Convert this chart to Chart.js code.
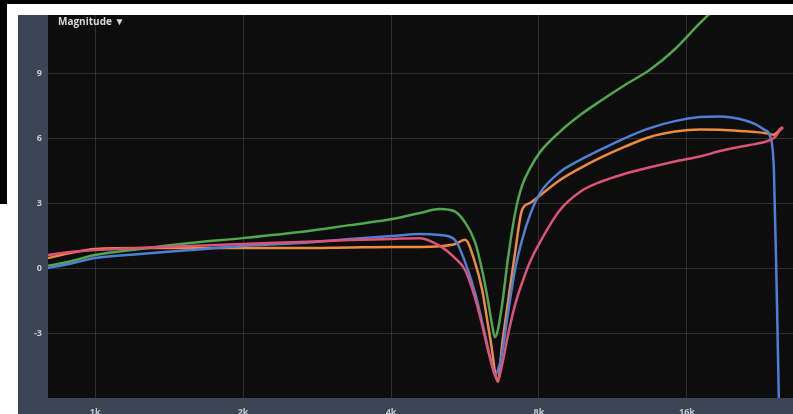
<!DOCTYPE html>
<html>
<head>
<meta charset="utf-8">
<script src="https://cdn.jsdelivr.net/npm/chart.js@4"></script>
<style>
  html, body { margin: 0; padding: 0; background: #fff; overflow: hidden; }
  body { width: 793px; height: 414px; position: relative; }
  .blk { position: absolute; background: #000; }
  #panel { position: absolute; left: 18px; top: 15px; width: 775px; height: 420px; background: #3b4553; }
</style>
</head>
<body>
<div class="blk" style="left:0;top:0;width:793px;height:4px"></div>
<div class="blk" style="left:0;top:0;width:7px;height:204px"></div>
<div id="panel"><canvas id="magChart"></canvas></div>
<script>
// Frequency points (Hz)
const freqs = [802, 890, 1000, 1235, 1560, 2000, 2610, 3300, 4020, 4580, 5030, 5400, 5660, 5930, 6130, 6300, 6420, 6510, 6600, 6730, 6920, 7150, 7390, 7670, 8040, 8830, 9690, 10650, 11970, 13450, 15120, 17000, 18680, 20510, 22000, 23050, 23600, 24050, 24390, 24730, 25090];

// Magnitude per trace (dB)
const greenVals = [0.1, 0.3, 0.6, 0.88, 1.15, 1.38, 1.66, 1.98, 2.26, 2.54, 2.72, 2.6, 2.1, 1.2, -0.1, -1.5, -2.6, -3.2, -2.85, -1.7, 0.45, 2.5, 3.8, 4.6, 5.35, 6.3, 7.05, 7.7, 8.45, 9.15, 10.1, 11.3, 12.2, 13.1, null, null, null, null, null, null, null];
const blueVals = [0.0, 0.2, 0.46, 0.65, 0.83, 1.02, 1.15, 1.34, 1.48, 1.57, 1.52, 1.29, 0.27, -1.15, -2.49, -3.69, -4.48, -4.94, -4.71, -3.92, -2.08, -0.09, 1.29, 2.45, 3.46, 4.43, 4.98, 5.45, 6.0, 6.46, 6.78, 6.97, 7.0, 6.88, 6.65, 6.37, 6.1, 4.5, -1.5, -8.5, null];
const orangeVals = [0.46, 0.69, 0.88, 0.92, 0.92, 0.92, 0.92, 0.95, 0.97, 0.97, 1.0, 1.11, 1.3, 0.25, -1.0, -2.63, -3.78, -4.8, -5.25, -3.55, -1.57, 0.69, 2.68, 3.0, 3.35, 4.06, 4.6, 5.08, 5.6, 6.05, 6.3, 6.4, 6.38, 6.33, 6.28, 6.23, 6.18, 6.15, 6.25, 6.4, 6.5];
const pinkVals = [0.6, 0.74, 0.83, 0.92, 1.02, 1.11, 1.2, 1.29, 1.34, 1.38, 1.02, 0.46, -0.09, -1.38, -2.63, -3.78, -4.48, -4.94, -5.2, -4.48, -3.09, -1.71, -0.69, 0.28, 1.2, 2.68, 3.51, 3.97, 4.35, 4.65, 4.92, 5.15, 5.4, 5.6, 5.72, 5.82, 5.9, 6.0, 6.15, 6.35, 6.5];

const xTicks = [1000, 2000, 4000, 8000, 16000];
const xTickLabels = ["1k", "2k", "4k", "8k", "16k"];
const yTicks = [-3, 0, 3, 6, 9];

function toPoints(vals) {
  return freqs.map((f, i) => ({ x: f, y: vals[i] }));
}

// no label overhang padding, the plot runs to the panel edges
function noPad(scale) {
  scale.paddingTop = 0;
  scale.paddingBottom = 0;
  scale.paddingLeft = 0;
  scale.paddingRight = 0;
}

// Black plot background + the "Magnitude" header
const plotBg = {
  id: "plotBg",
  beforeDraw(chart) {
    const { ctx, chartArea: a } = chart;
    ctx.save();
    ctx.fillStyle = "#0d0d0d";
    ctx.fillRect(a.left, a.top, a.right - a.left, a.bottom - a.top);
    ctx.restore();
  },
  afterDraw(chart) {
    const { ctx, chartArea: a } = chart;
    ctx.save();
    ctx.fillStyle = "#d6d8da";
    ctx.font = "bold 10px 'Open Sans', sans-serif";
    ctx.textBaseline = "top";
    ctx.fillText("Magnitude \u25BC", a.left + 10, a.top + 2);
    ctx.restore();
  }
};

const lineStyle = { borderWidth: 2.5, pointRadius: 0, cubicInterpolationMode: "monotone", spanGaps: false };

new Chart(document.getElementById("magChart"), {
  type: "line",
  data: {
    datasets: [
      { label: "pink", data: toPoints(pinkVals), borderColor: "#de5279", ...lineStyle },
      { label: "blue", data: toPoints(blueVals), borderColor: "#4d7fd2", ...lineStyle },
      { label: "green", data: toPoints(greenVals), borderColor: "#4fa84e", ...lineStyle },
      { label: "orange", data: toPoints(orangeVals), borderColor: "#ee8a3c", ...lineStyle }
    ]
  },
  options: {
    responsive: true,
    maintainAspectRatio: false,
    animation: false,
    layout: { padding: 0 },
    plugins: { legend: { display: false }, tooltip: { enabled: false } },
    scales: {
      x: {
        type: "logarithmic",
        min: 802,
        max: 26300,
        afterBuildTicks: scale => { scale.ticks = xTicks.map(v => ({ value: v })); },
        afterFit: scale => { scale.height = 37; noPad(scale); },
        grid: { color: "rgba(255,255,255,0.14)", drawTicks: false },
        border: { display: false },
        ticks: {
          color: "#c8ccd2",
          font: { size: 9, weight: "bold", family: "'Open Sans', sans-serif" },
          padding: 9,
          maxRotation: 0,
          autoSkip: false,
          callback: value => xTickLabels[xTicks.indexOf(value)] || ""
        }
      },
      y: {
        min: -6.0,
        max: 11.68,
        afterBuildTicks: scale => { scale.ticks = yTicks.map(v => ({ value: v })); },
        afterFit: scale => { scale.width = 30; noPad(scale); },
        grid: { color: "rgba(255,255,255,0.14)", drawTicks: false },
        border: { display: false },
        ticks: {
          color: "#c8ccd2",
          font: { size: 9, weight: "bold", family: "'Open Sans', sans-serif" },
          padding: 6
        }
      }
    }
  },
  plugins: [plotBg]
});
</script>
</body>
</html>
